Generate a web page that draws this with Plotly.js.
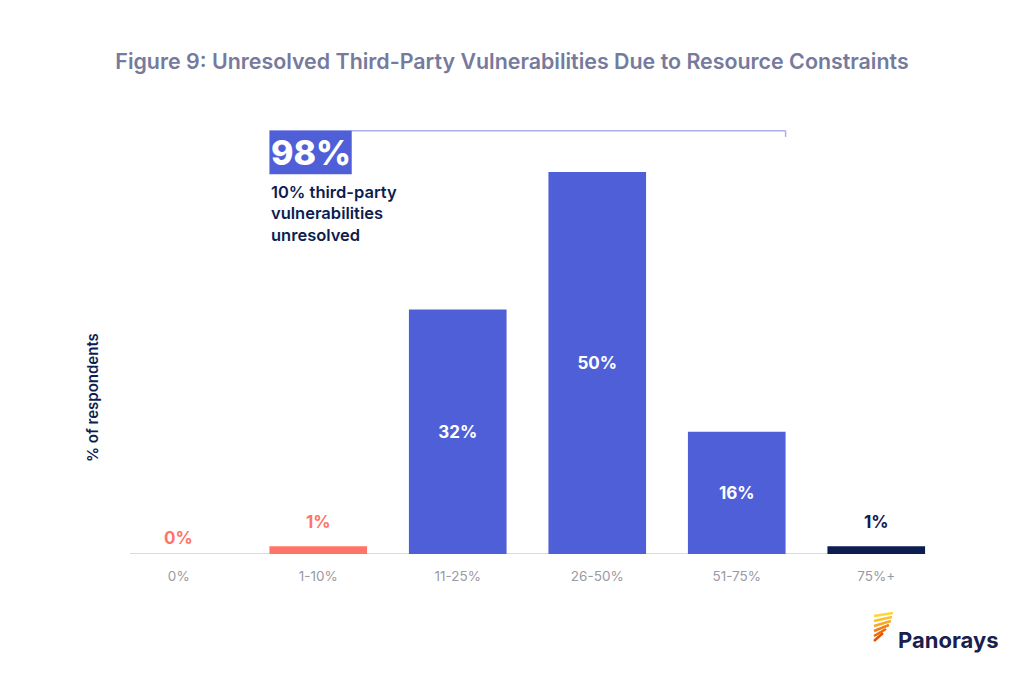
<!DOCTYPE html>
<html>
<head>
<meta charset="utf-8">
<script src="https://cdn.plot.ly/plotly-3.0.1.min.js"></script>
<style>html,body{margin:0;padding:0;background:#fff;}#chart{width:1024px;height:677px;}</style>
</head>
<body>
<div id="chart"></div>
<script>
const categories = ["0%", "1-10%", "11-25%", "26-50%", "51-75%", "75%+"];
const values = [0, 1, 32, 50, 16, 1];
const valueLabels = ["0%", "1%", "32%", "50%", "16%", "1%"];
const barColors = ["#FF7468", "#FF7468", "#4F5FD8", "#4F5FD8", "#4F5FD8", "#0D1D4F"];
const labelInside = [false, false, true, true, true, false];
const calloutValue = "98%";
const calloutText = "10% third-party<br>vulnerabilities<br>unresolved";
const bracketTop = 55.4;

const FONT = "Inter, 'Open Sans', sans-serif";
const xIdx = categories.map((c, i) => i);
// pixel helpers for paper placement of non-data decorations
const PX0 = 109, PW = 837, PY0 = 554, PH = 434;
const px = x => (x - PX0) / PW;
const py = y => (PY0 - y) / PH;

const trace = {
  type: "bar",
  x: xIdx,
  y: values,
  marker: {color: barColors},
  text: valueLabels.map((t, i) => labelInside[i] ? t : ""),
  textposition: "inside",
  insidetextanchor: "middle",
  textfont: {family: FONT, size: 17, color: "#ffffff", weight: 700},
  hoverinfo: "none",
  cliponaxis: false
};

const annotations = [];
values.forEach((v, i) => {
  if (!labelInside[i]) {
    annotations.push({
      x: i, y: v, xref: "x", yref: "y",
      text: "<b>" + valueLabels[i] + "</b>",
      showarrow: false, yanchor: "bottom", yshift: v === 0 ? 4 : 12,
      font: {family: FONT, size: 17, color: barColors[i]}
    });
  }
});
annotations.push({
  x: 0.65 + 0.295, y: bracketTop - 2.85, xref: "x", yref: "y",
  text: calloutValue, showarrow: false,
  xanchor: "center", yanchor: "middle",
  font: {family: FONT, size: 34, color: "#ffffff", weight: 800}
});
annotations.push({
  x: 0.65, y: bracketTop - 6.5, xref: "x", yref: "y",
  text: calloutText, showarrow: false, align: "left",
  xanchor: "left", yanchor: "top",
  font: {family: FONT, size: 16.5, color: "#0D1D4F", weight: 600}
});
annotations.push({
  x: px(92), y: py(398), xref: "paper", yref: "paper",
  text: "% of respondents", showarrow: false, textangle: -90,
  xanchor: "center", yanchor: "middle",
  font: {family: FONT, size: 15, color: "#0D1D4F", weight: 600}
});
annotations.push({
  x: px(1001), y: py(640), xref: "paper", yref: "paper",
  text: "<b>Panorays</b>", showarrow: false, xanchor: "right", yanchor: "middle",
  font: {family: FONT, size: 22, color: "#1A1F4E"}
});

const shapes = [
  {type: "line", xref: "x", yref: "y", x0: -0.35, x1: 5.35, y0: 0, y1: 0,
   line: {color: "#C9CDF2", width: 1.5}, layer: "below"},
  {type: "line", xref: "x", yref: "y", x0: 0.65, x1: 4.35, y0: bracketTop, y1: bracketTop,
   line: {color: "#A9AFEA", width: 1.5}},
  {type: "line", xref: "x", yref: "y", x0: 4.35, x1: 4.35, y0: bracketTop, y1: bracketTop - 0.8,
   line: {color: "#A9AFEA", width: 1.5}},
  {type: "rect", xref: "x", yref: "y", x0: 0.65, x1: 1.24, y0: bracketTop, y1: bracketTop - 5.7,
   fillcolor: "#4F5FD8", line: {width: 0}}
];
// Panorays logo fan icon
const fanColors = ["#FDD835", "#FBC02D", "#F9A825", "#F57F17", "#EF6C00", "#E65100"];
const fanLines = [[874,616,893,613],[874,621,892,617],[874,626,891,621],[874,631,889,625],[874,636,886,629],[874,641,883,633]];
fanLines.forEach((l, k) => {
  shapes.push({type: "line", xref: "paper", yref: "paper",
    x0: px(l[0]), x1: px(l[2]), y0: py(l[1]), y1: py(l[3]),
    line: {color: fanColors[k], width: 2.5}});
});

const layout = {
  width: 1024, height: 677,
  margin: {l: 109, r: 78, t: 120, b: 123},
  paper_bgcolor: "#ffffff", plot_bgcolor: "#ffffff",
  title: {text: "Figure 9: Unresolved Third-Party Vulnerabilities Due to Resource Constraints",
          x: 0.5, xanchor: "center", y: 1 - 62 / 677, yanchor: "middle", yref: "container",
          font: {family: FONT, size: 21.4, color: "#767A9C", weight: 600}},
  bargap: 0.3,
  showlegend: false,
  xaxis: {range: [-0.5, 5.5], tickvals: xIdx, ticktext: categories, showgrid: false,
          zeroline: false, showline: false, ticks: "", fixedrange: true,
          tickfont: {family: FONT, size: 13.5, color: "#9A9AA2"}, ticklabelstandoff: 12},
  yaxis: {range: [0, 434 / 7.64], showticklabels: false, showgrid: false, zeroline: false,
          showline: false, ticks: "", fixedrange: true},
  annotations: annotations,
  shapes: shapes
};

Plotly.newPlot("chart", [trace], layout, {displayModeBar: false, staticPlot: true});
</script>
</body>
</html>
